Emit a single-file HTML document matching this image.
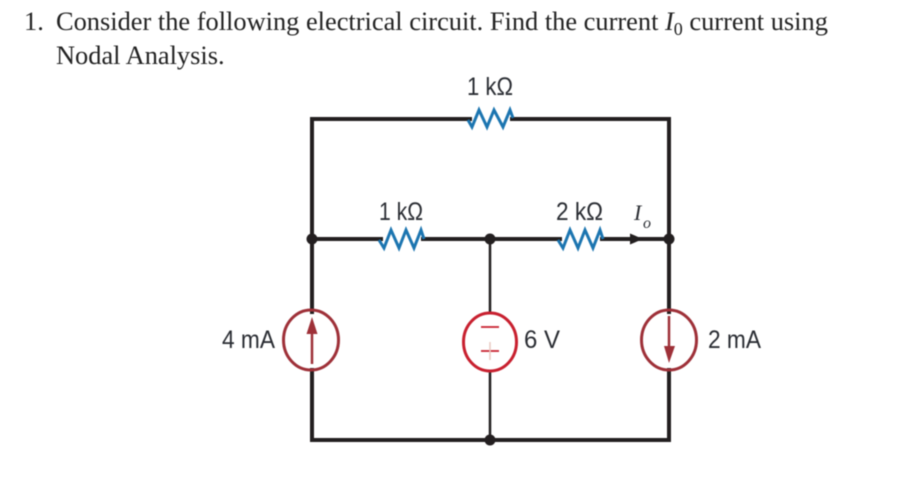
<!DOCTYPE html>
<html><head><meta charset="utf-8"><style>
html,body{margin:0;padding:0;background:#fff;width:900px;height:484px;overflow:hidden}
svg{display:block}
.t{font-family:"Liberation Serif",serif;font-size:26.4px;fill:#222}
.l{font-family:"Liberation Sans",sans-serif;font-size:25px;fill:#2a2d33}
.d{filter:blur(0.4px)}
</style></head><body>
<svg width="900" height="484" viewBox="0 0 900 484" xmlns="http://www.w3.org/2000/svg">
<g class="d">
<text class="t" x="24" y="30">1.</text>
<text class="t" x="56" y="30">Consider the following electrical circuit. Find the current <tspan font-style="italic">I</tspan><tspan font-size="18" dy="5">0</tspan><tspan dy="-5"> current using</tspan></text>
<text class="t" x="56" y="64">Nodal Analysis.</text>
<g fill="none" stroke="#231f20" stroke-linecap="square">
<path stroke-width="4" d="M470 119H312V312M512 119H669V312M312 370V440H669V370"/>
<path stroke-width="4" d="M312 239H381M423 239H560M602 239H669"/>
<path stroke-width="2.500" d="M490 239V312M490 372V440"/>
</g>
<path d="M630 233.500L643 239L630 244.500Z" fill="#231f20"/>
<g fill="#231f20"><circle cx="312" cy="239" r="5.500"/><circle cx="490" cy="239" r="5.500"/><circle cx="669" cy="239" r="5.500"/><circle cx="490" cy="440" r="5.500"/></g>
<g fill="none" stroke="#1c75b0" stroke-width="3" stroke-linejoin="miter">
<path d="M468 120L472 127L479 110L487 127L494 110L503 127L510 110L513 118"/>
<path d="M379 240L384 248L391 230L399 248L406 230L414 248L421 230L424 239"/>
<path d="M558 240L563 248L570 230L578 248L585 230L593 248L600 230L603 239"/>
</g>
<g fill="none" stroke="#9e3038" stroke-width="3"><ellipse cx="311" cy="340" rx="27.500" ry="30"/><ellipse cx="669" cy="340" rx="27.500" ry="30"/>
<path stroke-width="2.500" d="M312 364V325M669 316V355"/></g>
<path d="M312 317L306.500 334H317.500Z" fill="#9e3038"/><path d="M669 363L664 346H675Z" fill="#9e3038"/>
<ellipse cx="490" cy="342" rx="26.500" ry="29" fill="#fff" stroke="#c8202f" stroke-width="3"/>
<path d="M481 327H499M481 351H499" stroke="#c8202f" stroke-width="1.800"/><path d="M490 342V360" stroke="#e8c8c0" stroke-width="1.500"/>
<text class="l" x="467" y="95" textLength="46" lengthAdjust="spacingAndGlyphs">1 kΩ</text>
<text class="l" x="379" y="220" textLength="44" lengthAdjust="spacingAndGlyphs">1 kΩ</text>
<text class="l" x="556" y="220" textLength="47" lengthAdjust="spacingAndGlyphs">2 kΩ</text>
<text class="l" x="222" y="348" textLength="53" lengthAdjust="spacingAndGlyphs">4 mA</text>
<text class="l" x="524" y="348" textLength="36" lengthAdjust="spacingAndGlyphs">6 V</text>
<text class="l" x="708" y="348" textLength="53" lengthAdjust="spacingAndGlyphs">2 mA</text>
<text x="634" y="220" font-family="Liberation Serif,serif" font-style="italic" font-size="22" fill="#2a2d33">I</text>
<text x="643" y="228" font-family="Liberation Serif,serif" font-style="italic" font-size="16" fill="#2a2d33">o</text>
</g>
</svg>
</body></html>
